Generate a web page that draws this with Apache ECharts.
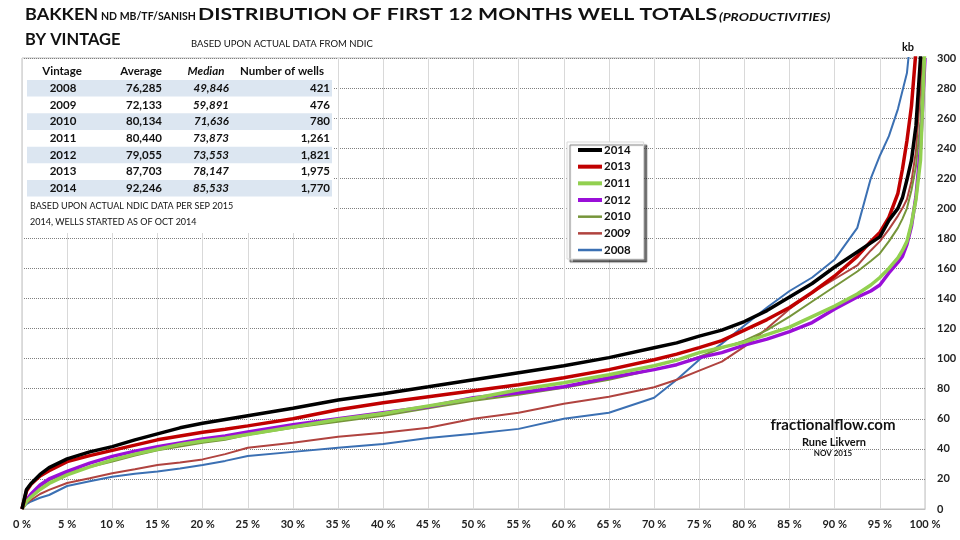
<!DOCTYPE html>
<html>
<head>
<meta charset="utf-8">
<script src="https://cdn.jsdelivr.net/npm/echarts@6/dist/echarts.min.js"></script>
<style>html,body{margin:0;padding:0;background:#fff}#c{width:960px;height:540px}</style>
</head>
<body>
<div id="c"></div>
<script>
// ---- data ----
const pct = [0, 0.5, 1, 2, 3, 5, 7.5, 10, 12.5, 15, 17.5, 20, 22.5, 25, 30, 35, 40, 45, 50, 55, 60, 65, 70, 72.5, 75, 77.5, 80, 82.5, 85, 87.5, 90, 92.5, 94, 95, 96, 97, 97.5, 98, 98.5, 99, 99.5, 100];
const v2014 = [0, 13, 17, 23, 27.5, 33.3, 38, 41.5, 46, 50, 54, 57, 59.5, 62, 67, 72.5, 76.7, 81.3, 86, 90.7, 95.3, 100.7, 107.3, 110.5, 115, 119, 124.7, 132, 141, 150, 161, 171, 177, 181, 192, 200, 207, 219, 232, 255, 300, 420];
const v2013 = [0, 12, 16.5, 22, 25.5, 31.5, 35.5, 39, 42.5, 46, 48.5, 51, 53, 55.3, 60, 66, 70.7, 74.7, 78.7, 82.7, 87.3, 92.7, 99.3, 103, 107.3, 112, 119, 126, 134, 144, 155, 168, 178, 184, 194, 210, 226, 245, 268, 305, 380, 450];
const v2011 = [0, 5, 8, 13, 17, 22.7, 28, 32.7, 36.5, 39.8, 43, 45.3, 47, 49.5, 54.5, 59.5, 63.5, 68.5, 73.5, 79.3, 84, 89.3, 95.3, 99, 104, 107.5, 111, 116, 121, 128, 135, 143, 149, 154, 160, 167, 172, 178, 190, 206, 232, 310];
const v2012 = [0, 6, 10, 16, 20, 25, 30.5, 35, 38.5, 41.5, 44, 46.5, 48.5, 51.3, 56, 60, 64, 68, 74, 77.3, 81.3, 87.3, 92.7, 96, 100.7, 104, 109, 113, 118, 124, 133, 141, 145, 149, 157, 164, 168, 176, 188, 208, 240, 300];
const v2010 = [0, 6, 9, 15, 19, 24, 28, 31.5, 35.5, 39, 41.5, 44, 46, 49.3, 54, 58, 62, 67, 72, 76, 80.7, 86, 92.7, 96, 101.3, 107, 112, 119, 128, 138, 148, 158, 165, 170, 178, 187, 193, 200, 212, 228, 258, 320];
const v2009 = [0, 4, 6, 10, 12.7, 17.3, 20.5, 23.8, 26.5, 29.3, 31, 33, 36.5, 40.7, 44, 48, 50.7, 54, 60, 64, 70, 74.7, 81, 86, 92, 98, 108, 120, 133, 144, 153, 162, 172, 178, 186, 195, 200, 206, 218, 238, 280, 360];
const v2008 = [0, 3.3, 5, 7.5, 9.3, 15.3, 18.5, 21.5, 23.5, 25, 27, 29.3, 32, 35.3, 38, 40.7, 43.3, 47.3, 50, 53.3, 60, 64, 74, 86, 99.3, 110, 122, 134, 145, 154, 166, 187, 220, 235, 248, 266, 278, 290, 320, 380, 420, 460];
const xTicks = [0, 5, 10, 15, 20, 25, 30, 35, 40, 45, 50, 55, 60, 65, 70, 75, 80, 85, 90, 95, 100];
const yTicks = [0, 20, 40, 60, 80, 100, 120, 140, 160, 180, 200, 220, 240, 260, 280, 300];
const legendOrder = ['2014', '2013', '2011', '2012', '2010', '2009', '2008'];

const tVintage = ['2008', '2009', '2010', '2011', '2012', '2013', '2014'];
const tAverage = [76285, 72133, 80134, 80440, 79055, 87703, 92246];
const tMedian = [49846, 59891, 71636, 73873, 73553, 78147, 85533];
const tWells = [421, 476, 780, 1261, 1821, 1975, 1770];
const notes = ['BASED UPON ACTUAL NDIC DATA PER SEP 2015', '2014, WELLS STARTED AS OF OCT 2014'];

// ---- styles ----
const FONT = 'Lato, "Open Sans", sans-serif';
const seriesDefs = [
  { name: '2008', data: v2008, color: '#3B70B3', width: 2 },
  { name: '2009', data: v2009, color: '#B0433F', width: 2 },
  { name: '2010', data: v2010, color: '#76953A', width: 2 },
  { name: '2012', data: v2012, color: '#9A0FD8', width: 3.5 },
  { name: '2011', data: v2011, color: '#92D050', width: 3.5 },
  { name: '2013', data: v2013, color: '#C00000', width: 3.5 },
  { name: '2014', data: v2014, color: '#000000', width: 3.5 }
];
const fmt = n => n.toLocaleString('en-US');
const lineIcon = w => 'path://M0,0M24,14M0,' + (7 - w / 2) + 'L24,' + (7 - w / 2) + 'L24,' + (7 + w / 2) + 'L0,' + (7 + w / 2) + 'Z';

const chart = echarts.init(document.getElementById('c'));

// table graphics
const g = [];
g.push({ type: 'rect', z: 100, shape: { x: 23, y: 59, width: 310, height: 174 }, style: { fill: '#fff' } });
const rowY = i => 88.3 + i * 16.67;
tVintage.forEach((v, i) => {
  if (i % 2 === 0) g.push({ type: 'rect', z: 101, shape: { x: 27, y: rowY(i) - 8.3, width: 305, height: 16.6 }, style: { fill: '#DCE6F1' } });
});
const txt = (text, x, y, font, align, sx) => ({ type: 'text', z: 102, x: x, y: y, scaleX: sx || 1, style: { text: text, font: font, fill: '#111', align: align, verticalAlign: 'middle', textAlign: align, textVerticalAlign: 'middle' } });
const hb = 'bold 11.5px ' + FONT, hbi = 'italic bold 11.5px ' + FONT;
g.push(txt('Vintage', 62, 71, hb, 'center'));
g.push(txt('Average', 162, 71, hb, 'right'));
g.push(txt('Median', 206, 71, hbi, 'center'));
g.push(txt('Number of wells', 282, 71, hb, 'center'));
tVintage.forEach((v, i) => {
  g.push(txt(v, 63, rowY(i), hb, 'center'));
  g.push(txt(fmt(tAverage[i]), 162, rowY(i), hb, 'right'));
  g.push(txt(fmt(tMedian[i]), 229, rowY(i), hbi, 'right'));
  g.push(txt(fmt(tWells[i]), 330, rowY(i), hb, 'right'));
});
notes.forEach((n, i) => g.push(txt(n, 30, 205.7 + i * 16, '9px ' + FONT, 'left')));

// titles
g.push(txt('BAKKEN', 25, 15, 'bold 17px ' + FONT, 'left', 1.06));
g.push(txt('ND MB/TF/SANISH', 101, 17, 'bold 10.5px ' + FONT, 'left'));
g.push(txt('DISTRIBUTION OF FIRST 12 MONTHS WELL TOTALS', 198, 15, 'bold 17px ' + FONT, 'left', 1.25));
g.push(txt('(PRODUCTIVITIES)', 719, 17, 'italic bold 12px ' + FONT, 'left', 1.14));
g.push(txt('BY VINTAGE', 25, 40, 'bold 17px ' + FONT, 'left', 0.97));
g.push(txt('BASED UPON ACTUAL DATA FROM NDIC', 191, 44, '9.5px ' + FONT, 'left'));
g.push(txt('kb', 908, 47, 'bold 11px ' + FONT, 'center'));
g.push(txt('fractionalflow.com', 833, 425, 'bold 15px ' + FONT, 'center'));
g.push(txt('Rune Likvern', 834, 442, 'bold 11px ' + FONT, 'center'));
g.push(txt('NOV 2015', 833, 453, 'bold 8px ' + FONT, 'center'));

const widthOf = {};
seriesDefs.forEach(s => { widthOf[s.name] = s.width; });

const option = {
  animation: false,
  backgroundColor: '#fff',
  grid: { left: 22, right: 35, top: 58, bottom: 31, show: true, borderColor: '#BFBFBF', borderWidth: 1, backgroundColor: 'transparent' },
  xAxis: {
    type: 'value', min: 0, max: 100, interval: 5,
    axisLine: { show: true, lineStyle: { color: '#BFBFBF' } },
    axisTick: { show: false },
    axisLabel: { margin: 10, color: '#222', fontFamily: FONT, fontWeight: 'bold', fontSize: 11, formatter: v => xTicks.includes(v) ? v + ' %' : '' },
    splitLine: { show: true, lineStyle: { color: '#D9D9D9', width: 1 } }
  },
  yAxis: {
    type: 'value', position: 'right', min: 0, max: 300, interval: 20,
    axisLine: { show: false }, axisTick: { show: false },
    axisLabel: { margin: 12, color: '#222', fontFamily: FONT, fontWeight: 'bold', fontSize: 11, align: 'left', formatter: v => yTicks.includes(v) ? String(v) : '' },
    splitLine: { show: true, lineStyle: { color: '#7F7F7F', type: [1, 1], width: 1 } }
  },
  legend: {
    data: legendOrder.map(n => ({ name: n, icon: lineIcon(widthOf[n] === 2 ? 2.5 : 4) })),
    orient: 'vertical', left: 567, top: 142,
    itemWidth: 24, itemHeight: 14, itemGap: 2.67,
    padding: [1, 13, 2, 11],
    itemStyle: { borderWidth: 0 },
    backgroundColor: '#fff', borderColor: '#D9D9D9', borderWidth: 1,
    shadowColor: 'rgba(0,0,0,0.55)', shadowOffsetX: 3, shadowOffsetY: 3, shadowBlur: 1,
    selectedMode: false,
    textStyle: { fontFamily: FONT, fontWeight: 'bold', fontSize: 11.5, color: '#111', padding: [0, 0, 0, -3] }
  },
  graphic: { elements: g },
  series: seriesDefs.map(s => ({
    name: s.name, type: 'line', symbol: 'none', showSymbol: false, clip: true,
    data: pct.map((p, i) => [p, s.data[i]]),
    lineStyle: { color: s.color, width: s.width },
    itemStyle: { color: s.color }
  }))
};
chart.setOption(option);
</script>
</body>
</html>
